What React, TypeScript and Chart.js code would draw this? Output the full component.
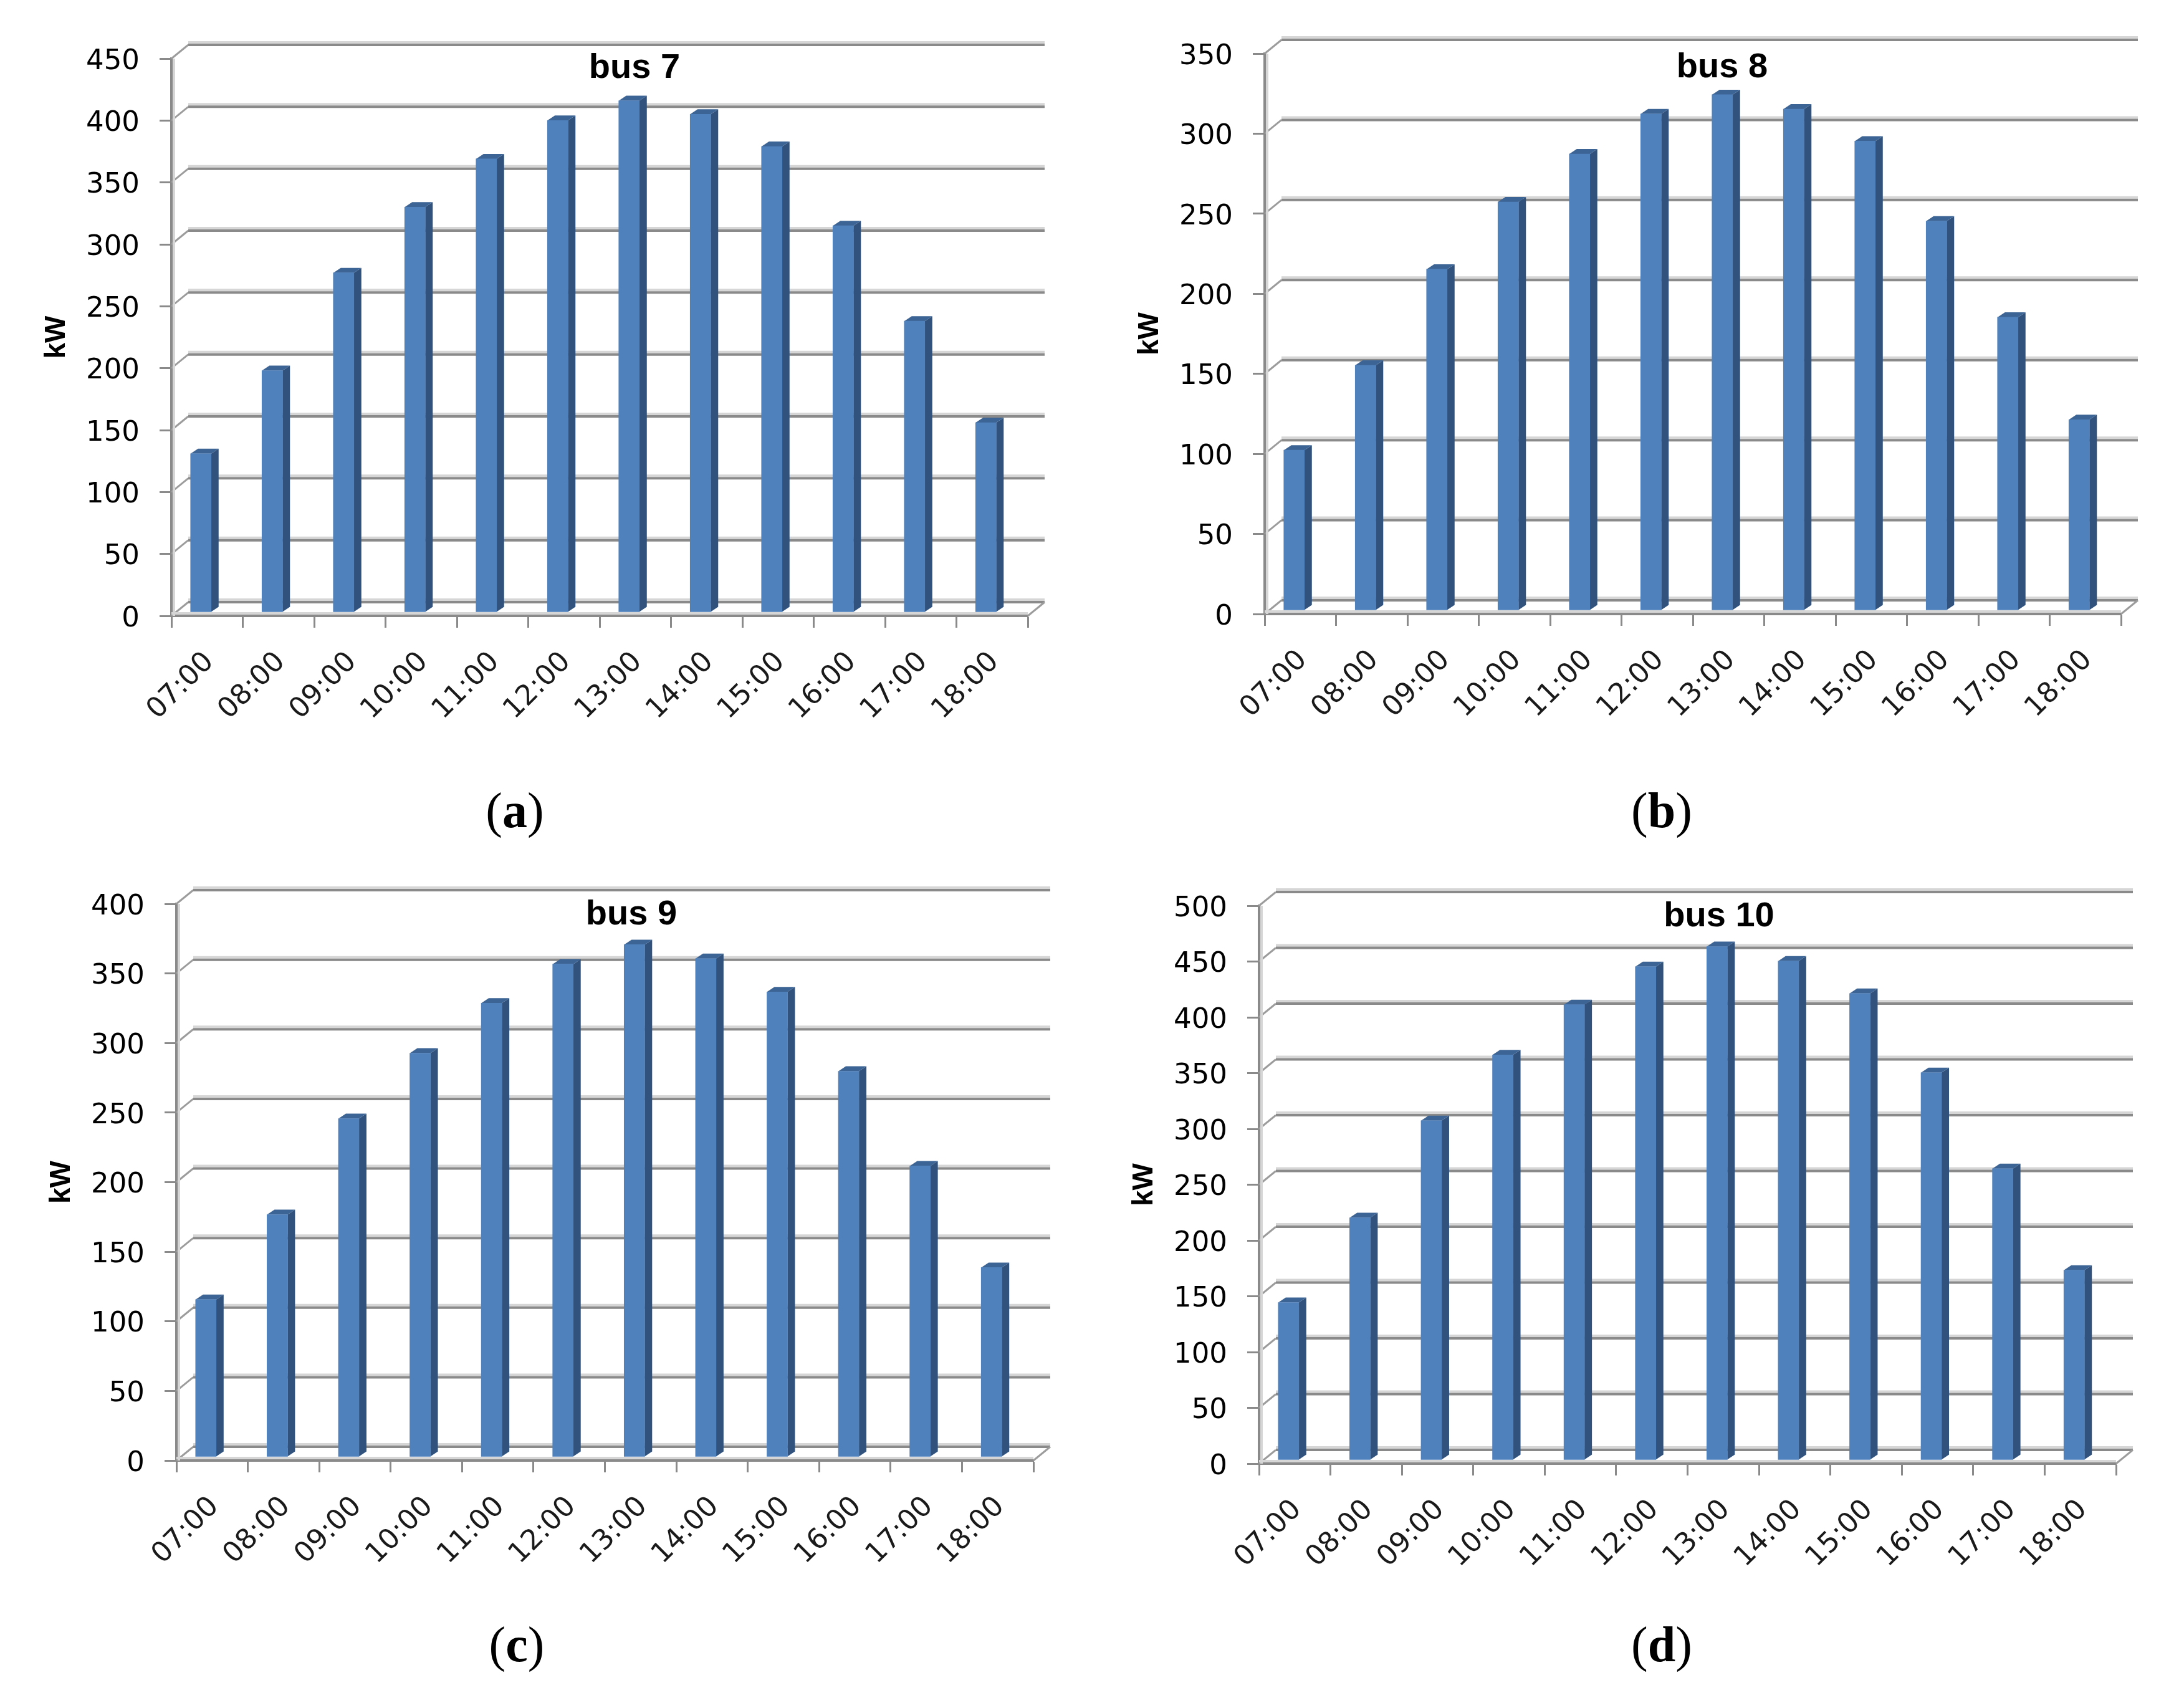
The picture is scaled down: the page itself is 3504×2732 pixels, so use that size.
import React, { useEffect, useRef } from "react";
import { Chart, registerables } from "chart.js";

Chart.register(...registerables);

const hours = ["07:00","08:00","09:00","10:00","11:00","12:00","13:00","14:00","15:00","16:00","17:00","18:00"];
const bus7 = [128,195,274,327,366,397,413,402,376,312,235,153];
const bus8 = [100,153,213,255,285,310,322,313,293,243,183,119];
const bus9 = [113,174,243,290,326,354,368,358,334,277,209,136];
const bus10 = [141,217,304,363,408,442,460,447,418,347,261,170];

const DEPTH_X = 27;
const DEPTH_Y = 22;
const BAR_DX = -10;
const BAR_DY = -6;
const SIDE_X = 12;
const SIDE_Y = 8;
const AXIS_W = 250;
const HEAD_H = 100;
const FOOT_H = 230;

type Panel = { title: string; values: number[]; max: number; left: number; right: number; top: number; bottom: number; titleCx: number; titleCy: number; caption: string; capX: number; capY: number };

const panels: Panel[] = [
  { title: "bus 7", values: bus7, max: 450, left: 275, right: 1649, top: 94, bottom: 988, titleCx: 1018, titleCy: 110, caption: "a", capX: 826, capY: 1300 },
  { title: "bus 8", values: bus8, max: 350, left: 2029, right: 3403, top: 86, bottom: 985, titleCx: 2763, titleCy: 109, caption: "b", capX: 2666, capY: 1300 },
  { title: "bus 9", values: bus9, max: 400, left: 283, right: 1658, top: 1450, bottom: 2343, titleCx: 1013, titleCy: 1468, caption: "c", capX: 829, capY: 2638 },
  { title: "bus 10", values: bus10, max: 500, left: 2020, right: 3395, top: 1453, bottom: 2348, titleCx: 2758, titleCy: 1471, caption: "d", capX: 2666, capY: 2638 },
];

const GRID = "#8a8a8a";
const GRID_LIGHT = "#d6d6d6";

const wallPlugin = {
  id: "wall",
  beforeDatasetsDraw(chart: any) {
    const { ctx, chartArea: a, scales } = chart;
    const y = scales.y;
    ctx.save();
    ctx.lineCap = "butt";
    y.ticks.forEach((t: any) => {
      const py = y.getPixelForValue(t.value);
      ctx.strokeStyle = "#9c9c9c";
      ctx.lineWidth = 3;
      ctx.beginPath();
      ctx.moveTo(a.left, py);
      ctx.lineTo(a.left + DEPTH_X, py - DEPTH_Y);
      ctx.stroke();
      ctx.strokeStyle = GRID_LIGHT;
      ctx.lineWidth = 4;
      ctx.beginPath();
      ctx.moveTo(a.left + DEPTH_X, py - DEPTH_Y - 4);
      ctx.lineTo(a.right + DEPTH_X, py - DEPTH_Y - 4);
      ctx.stroke();
      ctx.strokeStyle = GRID;
      ctx.lineWidth = 4;
      ctx.beginPath();
      ctx.moveTo(a.left + DEPTH_X, py - DEPTH_Y);
      ctx.lineTo(a.right + DEPTH_X, py - DEPTH_Y);
      ctx.stroke();
    });
    ctx.strokeStyle = "#9c9c9c";
    ctx.lineWidth = 3;
    ctx.beginPath();
    ctx.moveTo(a.right, a.bottom);
    ctx.lineTo(a.right + DEPTH_X, a.bottom - DEPTH_Y);
    ctx.stroke();
    ctx.strokeStyle = GRID_LIGHT;
    ctx.lineWidth = 4;
    ctx.beginPath();
    ctx.moveTo(a.left, a.bottom - 4);
    ctx.lineTo(a.right, a.bottom - 4);
    ctx.moveTo(a.left + 4, a.top);
    ctx.lineTo(a.left + 4, a.bottom);
    ctx.stroke();
    ctx.restore();

    ctx.save();
    ctx.translate(BAR_DX, BAR_DY);
    chart.getDatasetMeta(0).data.forEach((b: any) => {
      const l = b.x - b.width / 2;
      const r = b.x + b.width / 2;
      ctx.fillStyle = "#31527c";
      ctx.beginPath();
      ctx.moveTo(r, b.y);
      ctx.lineTo(r + SIDE_X, b.y - SIDE_Y);
      ctx.lineTo(r + SIDE_X, b.base - SIDE_Y);
      ctx.lineTo(r, b.base);
      ctx.closePath();
      ctx.fill();
      ctx.fillStyle = "#3c6495";
      ctx.beginPath();
      ctx.moveTo(l, b.y);
      ctx.lineTo(l + SIDE_X, b.y - SIDE_Y);
      ctx.lineTo(r + SIDE_X, b.y - SIDE_Y);
      ctx.lineTo(r, b.y);
      ctx.closePath();
      ctx.fill();
    });
  },
  afterDatasetsDraw(chart: any) {
    chart.ctx.restore();
  },
};

function PanelChart({ p }: { p: Panel }) {
  const ref = useRef<HTMLCanvasElement>(null);
  const plotW = p.right - p.left;
  const plotH = p.bottom - p.top;
  const canvasH = HEAD_H + plotH + FOOT_H;
  const canvasLeft = p.left - AXIS_W;
  const canvasW = 2 * (p.titleCx - canvasLeft);
  useEffect(() => {
    const titleFont = { family: "'Liberation Sans'", size: 56, weight: "bold" as const };
    const lh = titleFont.size * 1.2;
    const padTop = p.titleCy - (p.top - HEAD_H) - lh / 2;
    const chart = new Chart(ref.current!, {
      type: "bar",
      data: {
        labels: hours,
        datasets: [{ data: p.values, backgroundColor: "#4f81bd", borderWidth: 0, barThickness: 33, clip: false as any }],
      },
      plugins: [wallPlugin],
      options: {
        animation: false,
        responsive: false,
        devicePixelRatio: 1,
        layout: { padding: 0 },
        plugins: {
          legend: { display: false },
          tooltip: { enabled: false },
          title: {
            display: true,
            text: p.title,
            color: "#000",
            font: titleFont,
            padding: { top: padTop, bottom: HEAD_H - padTop - lh },
          },
        },
        scales: {
          x: {
            afterFit: (s: any) => { s.height = FOOT_H; },
            grid: { drawOnChartArea: false, color: GRID, tickColor: GRID, tickLength: 19, tickWidth: 3, offset: true },
            border: { color: GRID, width: 4 },
            ticks: {
              autoSkip: false, minRotation: 45, maxRotation: 45, padding: 29, labelOffset: 4, color: "#1a1a1a",
              font: { family: "'DejaVu Sans'", size: 45 },
            },
          },
          y: {
            min: 0,
            max: p.max,
            afterFit: (s: any) => { s.width = AXIS_W; },
            grid: { drawOnChartArea: false, color: GRID, tickColor: GRID, tickLength: 19, tickWidth: 3 },
            border: { color: GRID, width: 4 },
            ticks: {
              stepSize: 50, padding: 32, labelOffset: 5, color: "#000",
              font: { family: "'DejaVu Sans'", size: 45 },
            },
            title: {
              display: true, text: "kW", color: "#000",
              font: { family: "'Liberation Sans'", size: 46, weight: "bold" as const },
              padding: { top: 39, bottom: 0 },
            },
          },
          spacer: {
            type: "linear",
            position: "right",
            afterFit: (s: any) => { s.width = canvasW - AXIS_W - plotW; },
            grid: { display: false },
            border: { display: false },
            ticks: { display: false },
          },
        },
      },
    } as any);
    return () => chart.destroy();
  }, []);
  return (
    <canvas
      ref={ref}
      width={canvasW}
      height={canvasH}
      style={{ position: "absolute", left: canvasLeft, top: p.top - HEAD_H, width: canvasW, height: canvasH }}
    />
  );
}

export default function App() {
  return (
    <div style={{ position: "absolute", left: 0, top: 0, width: 3504, height: 2732, overflow: "hidden", background: "#fff" }}>
      {panels.map((p) => <PanelChart key={p.caption} p={p} />)}
      {panels.map((p) => (
        <div key={p.caption} style={{ position: "absolute", left: p.capX - 100, top: p.capY - 50, width: 200, height: 100, lineHeight: "100px", textAlign: "center", fontFamily: "'Liberation Serif'", fontSize: 80, color: "#000" }}>
          (<b>{p.caption}</b>)
        </div>
      ))}
    </div>
  );
}
